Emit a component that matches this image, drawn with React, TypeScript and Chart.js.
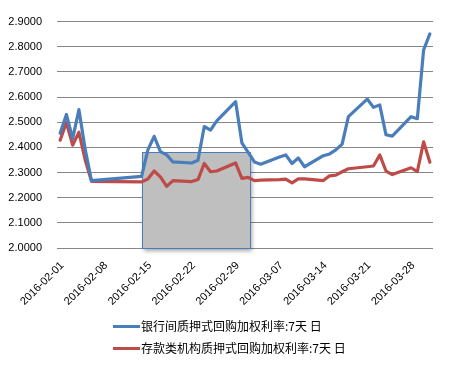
import React, { useEffect, useRef } from 'react';
import { Chart, registerables } from 'chart.js';

Chart.register(...registerables);

// ---- data ----
const dates = [
  '2016-02-01', '2016-02-02', '2016-02-03', '2016-02-04', '2016-02-05', '2016-02-06',
  '2016-02-14', '2016-02-15', '2016-02-16', '2016-02-17', '2016-02-18', '2016-02-19',
  '2016-02-22', '2016-02-23', '2016-02-24', '2016-02-25', '2016-02-26',
  '2016-02-29', '2016-03-01', '2016-03-02', '2016-03-03', '2016-03-04',
  '2016-03-07', '2016-03-08', '2016-03-09', '2016-03-10', '2016-03-11',
  '2016-03-14', '2016-03-15', '2016-03-16', '2016-03-17', '2016-03-18',
  '2016-03-21', '2016-03-22', '2016-03-23', '2016-03-24', '2016-03-25',
  '2016-03-28', '2016-03-29', '2016-03-30', '2016-03-31',
];

const interbankRate = [
  2.456, 2.531, 2.435, 2.550, 2.392, 2.268,
  2.285, 2.390, 2.444, 2.383, 2.370, 2.342,
  2.338, 2.349, 2.483, 2.469, 2.505,
  2.582, 2.418, 2.380, 2.342, 2.333,
  2.362, 2.370, 2.336, 2.358, 2.323,
  2.367, 2.374, 2.390, 2.413, 2.522,
  2.592, 2.559, 2.569, 2.450, 2.445,
  2.522, 2.514, 2.787, 2.851,
];

const depositoryRate = [
  2.428, 2.499, 2.409, 2.460, 2.350, 2.265,
  2.263, 2.274, 2.306, 2.283, 2.245, 2.268,
  2.264, 2.272, 2.336, 2.303, 2.306,
  2.338, 2.277, 2.281, 2.268, 2.270,
  2.272, 2.274, 2.259, 2.275, 2.275,
  2.268, 2.287, 2.290, 2.303, 2.315,
  2.323, 2.326, 2.370, 2.306, 2.292,
  2.319, 2.304, 2.422, 2.341,
];

const tickLabels = [
  '2016-02-01', '2016-02-08', '2016-02-15', '2016-02-22', '2016-02-29',
  '2016-03-07', '2016-03-14', '2016-03-21', '2016-03-28',
];

const seriesNames = ['银行间质押式回购加权利率:7天 日', '存款类机构质押式回购加权利率:7天 日'];

// highlighted box (in axis units: days since 2016-02-01, rate)
const highlightFromDay = 13.1;
const highlightToDay = 30.35;
const highlightTop = 2.38;

const yMin = 2.0;
const yMax = 2.9;
const yStep = 0.1;

// ---- helpers ----
const BASE = Date.UTC(2016, 1, 1);
const dayIndex = (s: string) => {
  const [y, m, d] = s.split('-').map(Number);
  return (Date.UTC(y, m - 1, d) - BASE) / 86400000;
};

const BLUE = '#4a7ebb';
const RED = '#be4b48';
const COLORS = [BLUE, RED];

const highlightPlugin = {
  id: 'highlightBox',
  beforeDatasetsDraw(chart: any) {
    const { ctx, scales } = chart;
    const x = scales.x;
    const y = scales.y;
    const x1 = Math.round(x.getPixelForValue(highlightFromDay)) + 0.5;
    const x2 = Math.round(x.getPixelForValue(highlightToDay)) + 0.5;
    const y1 = Math.round(y.getPixelForValue(highlightTop)) + 0.5;
    const y2 = Math.round(y.getPixelForValue(yMin)) + 0.5;
    ctx.save();
    ctx.shadowColor = 'rgba(0,0,0,0.35)';
    ctx.shadowBlur = 4;
    ctx.shadowOffsetX = 1;
    ctx.shadowOffsetY = 2;
    ctx.fillStyle = '#bfbfbf';
    ctx.fillRect(x1, y1, x2 - x1, y2 - y1);
    ctx.shadowColor = 'transparent';
    ctx.strokeStyle = BLUE;
    ctx.lineWidth = 1;
    ctx.strokeRect(x1, y1, x2 - x1, y2 - y1);
    ctx.restore();
  },
};

export default function App() {
  const canvasRef = useRef<HTMLCanvasElement | null>(null);

  useEffect(() => {
    if (!canvasRef.current) return;
    const xs = dates.map(dayIndex);
    const chart = new Chart(canvasRef.current, {
      type: 'line',
      data: {
        datasets: [
          {
            label: seriesNames[0],
            data: xs.map((x, i) => ({ x, y: interbankRate[i] })),
            borderColor: BLUE,
            backgroundColor: BLUE,
            borderWidth: 3.2,
            pointRadius: 0,
            tension: 0,
            borderJoinStyle: 'round',
            borderCapStyle: 'round',
          },
          {
            label: seriesNames[1],
            data: xs.map((x, i) => ({ x, y: depositoryRate[i] })),
            borderColor: RED,
            backgroundColor: RED,
            borderWidth: 3.2,
            pointRadius: 0,
            tension: 0,
            borderJoinStyle: 'round',
            borderCapStyle: 'round',
          },
        ],
      },
      options: {
        animation: false,
        responsive: false,
        layout: { padding: { top: 14, right: 21, left: 0, bottom: 0 } },
        plugins: {
          legend: { display: false },
          tooltip: { enabled: false },
        },
        scales: {
          x: {
            type: 'linear',
            min: -0.5,
            max: 59.5,
            grid: { display: false, drawTicks: false },
            border: { display: false },
            afterBuildTicks: (s: any) => {
              s.ticks = tickLabels.map((t) => ({ value: dayIndex(t) }));
            },
            afterFit: (s: any) => {
              s.height = 118;
            },
            ticks: {
              autoSkip: false,
              minRotation: 45,
              maxRotation: 45,
              padding: 11,
              labelOffset: 2,
              color: '#000',
              font: { family: 'Liberation Sans', size: 11 },
              callback: (_v: any, i: number) => tickLabels[i],
            },
          },
          y: {
            min: yMin,
            max: yMax,
            grid: { color: '#878787', lineWidth: 1, drawTicks: false },
            border: { display: false },
            afterFit: (s: any) => {
              s.width = 57;
            },
            ticks: {
              stepSize: yStep,
              padding: 15,
              color: '#000',
              font: { family: 'Liberation Sans', size: 11 },
              callback: (v: any) => Number(v).toFixed(4),
            },
          },
        },
      },
      plugins: [highlightPlugin],
    });
    return () => chart.destroy();
  }, []);

  return (
    <div style={{ position: 'fixed', left: 0, top: 0, width: 454, height: 366, background: '#fff' }}>
      <canvas ref={canvasRef} width={454} height={366} style={{ display: 'block' }} />
      <div style={{ position: 'absolute', left: 113, top: 315 }}>
        {seriesNames.map((name, i) => (
          <div key={name} style={{ display: 'flex', alignItems: 'center', height: 22 }}>
            <span style={{ display: 'inline-block', width: 27, height: 3, background: COLORS[i], marginRight: 1 }} />
            <span style={{ font: '12px "Noto Sans CJK SC", sans-serif', color: '#000', whiteSpace: 'nowrap', lineHeight: '22px' }}>
              {name}
            </span>
          </div>
        ))}
      </div>
    </div>
  );
}
